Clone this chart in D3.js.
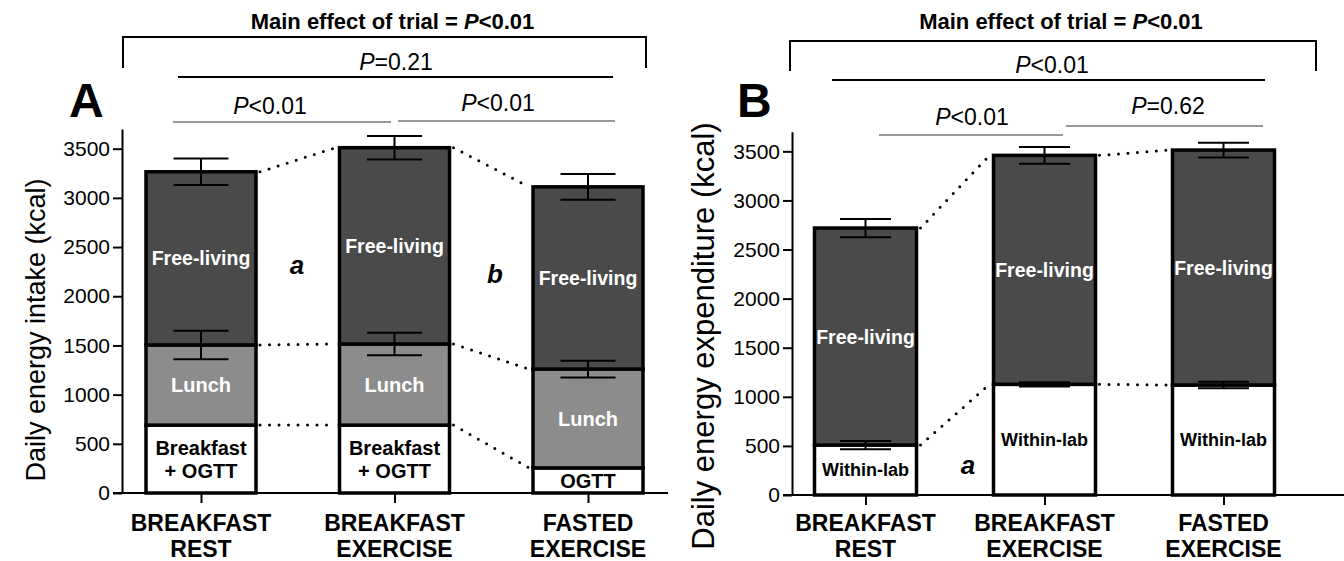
<!DOCTYPE html>
<meta charset="utf-8">
<style>
  body { margin: 0; background: #fff; }
  text { font-family: "Liberation Sans", Arial, sans-serif; }
</style>
<body>
<script src="https://cdn.jsdelivr.net/npm/d3@7"></script>
<script>

// ---- data ----
var trials = ["BREAKFAST REST", "BREAKFAST EXERCISE", "FASTED EXERCISE"];
var trialLines = [["BREAKFAST", "REST"], ["BREAKFAST", "EXERCISE"], ["FASTED", "EXERCISE"]];

// panel A: energy intake (kcal), stacked
var intakeBreakfast = [690, 690, 255];
var intakeLunch = [815, 825, 1005];
var intakeFree = [1760, 1995, 1852];
var intakeLunchErr = [145, 115, 85];
var intakeTotalErr = [135, 120, 130];
var intakeBottomLabels = [["Breakfast", "+ OGTT"], ["Breakfast", "+ OGTT"], ["OGTT"]];

// panel B: energy expenditure (kcal), stacked
var eeWithinLab = [509, 1127, 1120];
var eeFree = [2210, 2332, 2393];
var eeWithinErr = [42, 22, 34];
var eeTotalErr = [93, 85, 75];

var yTicks = [0, 500, 1000, 1500, 2000, 2500, 3000, 3500];

var width = 1344,
    height = 561;

var svg = d3.select("body").append("svg")
    .attr("width", width)
    .attr("height", height);

var dark = "#4a4a4a", mid = "#8c8c8c";

function panel(opt) {
  var g = svg.append("g");
  var y = d3.scaleLinear().domain([0, 3700]).range([opt.y0, opt.y1]);
  var x = d3.scalePoint().domain(trials).range(opt.xr);
  var bw = opt.bw;

  // build stacks
  var stacks = trials.map(function(t, i) {
    var segs = [], base = 0;
    opt.layers.forEach(function(L) {
      segs.push({ lo: base, hi: base + L.values[i], fill: L.fill, label: L.labels[i], color: L.textColor, size: L.size, err: L.err ? L.err[i] : 0 });
      base += L.values[i];
    });
    return { t: t, segs: segs };
  });

  // dotted connectors
  for (var i = 0; i < stacks.length - 1; i++) {
    stacks[i].segs.forEach(function(s, k) {
      var n = stacks[i + 1].segs[k];
      g.append("line")
          .attr("x1", x(trials[i]) + bw / 2 + 4).attr("y1", y(s.hi))
          .attr("x2", x(trials[i + 1]) - bw / 2 - 4).attr("y2", y(n.hi))
          .attr("stroke", "#000").attr("stroke-width", 3)
          .attr("stroke-linecap", "round").attr("stroke-dasharray", "0,9.5");
    });
  }

  // bars
  stacks.forEach(function(st) {
    var cx = x(st.t);
    st.segs.forEach(function(s) {
      g.append("rect")
          .attr("x", cx - bw / 2).attr("y", y(s.hi))
          .attr("width", bw).attr("height", y(s.lo) - y(s.hi))
          .attr("fill", s.fill).attr("stroke", "#000").attr("stroke-width", 3.5);
    });
  });

  // error bars
  stacks.forEach(function(st) {
    var cx = x(st.t);
    st.segs.forEach(function(s) {
      if (!s.err) return;
      var e = g.append("g").attr("stroke", "#000").attr("stroke-width", 2);
      e.append("line").attr("x1", cx).attr("x2", cx).attr("y1", y(s.hi + s.err)).attr("y2", y(s.hi - s.err));
      [s.hi + s.err, s.hi - s.err].forEach(function(v) {
        e.append("line").attr("x1", cx - bw / 4).attr("x2", cx + bw / 4).attr("y1", y(v)).attr("y2", y(v));
      });
    });
  });

  // segment labels
  stacks.forEach(function(st) {
    var cx = x(st.t);
    st.segs.forEach(function(s) {
      var lines = s.label, mid = (y(s.lo) + y(s.hi)) / 2;
      var lh = s.size * 1.15;
      lines.forEach(function(l, j) {
        g.append("text")
            .attr("x", cx).attr("y", mid + (j - (lines.length - 1) / 2) * lh)
            .attr("dy", "0.36em").attr("text-anchor", "middle")
            .attr("font-weight", "bold").attr("font-size", s.size)
            .attr("fill", s.color).text(l);
      });
    });
  });

  // y axis
  var ya = g.append("g")
      .attr("transform", "translate(" + opt.axX + ",0)")
      .call(d3.axisLeft(y).tickValues(yTicks).tickFormat(d3.format("d"))
        .tickSize(9).tickSizeOuter(0).tickPadding(3));
  ya.selectAll("path, line").attr("stroke", "#000").attr("stroke-width", 2);
  ya.selectAll("text").attr("font-size", 21).attr("fill", "#000").style("font-family", '"Liberation Sans", Arial, sans-serif');

  // x axis
  g.append("line").attr("x1", opt.axX - 9).attr("x2", opt.xEnd)
      .attr("y1", y(0)).attr("y2", y(0)).attr("stroke", "#000").attr("stroke-width", 2);
  var xa = g.append("g")
      .attr("transform", "translate(0," + y(0) + ")")
      .call(d3.axisBottom(x).tickSize(10).tickSizeOuter(0).tickFormat(""));
  xa.select(".domain").remove();
  xa.selectAll("line").attr("stroke", "#000").attr("stroke-width", 2);
  trials.forEach(function(t, i) {
    trialLines[i].forEach(function(l, j) {
      g.append("text").attr("x", x(t)).attr("y", 531 + j * 26)
          .attr("text-anchor", "middle").attr("font-weight", "bold")
          .attr("font-size", 23).text(l);
    });
  });

  // y title
  g.append("text")
      .attr("transform", "translate(" + opt.titleX + "," + opt.titleY + ") rotate(-90)")
      .attr("text-anchor", "middle").attr("font-size", opt.titleSize).text(opt.title);

  // panel letter
  g.append("text").attr("x", opt.letterX).attr("y", 117)
      .attr("font-weight", "bold").attr("font-size", 48).text(opt.letter);

  // main effect bracket
  var b = opt.bracket;
  g.append("path")
      .attr("d", "M" + b.x1 + "," + b.y2 + "V" + b.y1 + "H" + b.x2 + "V" + b.y2)
      .attr("fill", "none").attr("stroke", "#000").attr("stroke-width", 2);
  var mt = g.append("text").attr("x", (b.x1 + b.x2) / 2 + 8).attr("y", 29)
      .attr("text-anchor", "middle").attr("font-weight", "bold").attr("font-size", 22);
  mt.append("tspan").text("Main effect of trial = ");
  mt.append("tspan").attr("font-style", "italic").text("P");
  mt.append("tspan").text("<0.01");

  // comparison lines
  opt.comps.forEach(function(c) {
    g.append("line").attr("x1", c.x1).attr("x2", c.x2).attr("y1", c.ly).attr("y2", c.ly)
        .attr("stroke", c.grey ? "#777" : "#000").attr("stroke-width", c.grey ? 1.5 : 2);
    var t = g.append("text").attr("x", c.tx).attr("y", c.ty)
        .attr("text-anchor", "middle").attr("font-size", 23);
    t.append("tspan").attr("font-style", "italic").text("P");
    t.append("tspan").text(c.p);
  });

  // letters
  opt.marks.forEach(function(m) {
    g.append("text").attr("x", m.x).attr("y", m.y).attr("text-anchor", "middle")
        .attr("font-weight", "bold").attr("font-style", "italic").attr("font-size", 26).text(m.t);
  });
}

panel({
  y0: 493, y1: 129, xr: [201, 588], bw: 110, axX: 122, xEnd: 668,
  layers: [
    { values: intakeBreakfast, fill: "#fff", labels: intakeBottomLabels, textColor: "#000", size: 20 },
    { values: intakeLunch, fill: mid, labels: trials.map(function() { return ["Lunch"]; }), textColor: "#fff", size: 20, err: intakeLunchErr },
    { values: intakeFree, fill: dark, labels: trials.map(function() { return ["Free-living"]; }), textColor: "#fff", size: 19.5, err: intakeTotalErr }
  ],
  title: "Daily energy intake (kcal)", titleX: 45, titleY: 330, titleSize: 27,
  letter: "A", letterX: 69,
  bracket: { x1: 123, x2: 646, y1: 37, y2: 68 },
  comps: [
    { x1: 178, x2: 613, ly: 77, tx: 396, ty: 70, p: "=0.21" },
    { x1: 173, x2: 391, ly: 122, tx: 270, ty: 114, p: "<0.01", grey: true },
    { x1: 398, x2: 615, ly: 121, tx: 498, ty: 111, p: "<0.01", grey: true }
  ],
  marks: [{ x: 297, y: 274, t: "a" }, { x: 495, y: 283, t: "b" }]
});

panel({
  y0: 495, y1: 131.7, xr: [865.5, 1223.5], bw: 102, axX: 792, xEnd: 1344,
  layers: [
    { values: eeWithinLab, fill: "#fff", labels: trials.map(function() { return ["Within-lab"]; }), textColor: "#000", size: 18, err: eeWithinErr },
    { values: eeFree, fill: dark, labels: trials.map(function() { return ["Free-living"]; }), textColor: "#fff", size: 19.5, err: eeTotalErr }
  ],
  title: "Daily energy expenditure (kcal)", titleX: 714, titleY: 336, titleSize: 31,
  letter: "B", letterX: 737,
  bracket: { x1: 790, x2: 1316, y1: 41, y2: 71 },
  comps: [
    { x1: 832, x2: 1265, ly: 80, tx: 1052, ty: 73, p: "<0.01" },
    { x1: 879, x2: 1063, ly: 135, tx: 972, ty: 125, p: "<0.01", grey: true },
    { x1: 1066, x2: 1263, ly: 126, tx: 1168, ty: 114, p: "=0.62", grey: true }
  ],
  marks: [{ x: 968, y: 474, t: "a" }]
});

</script>
</body>
